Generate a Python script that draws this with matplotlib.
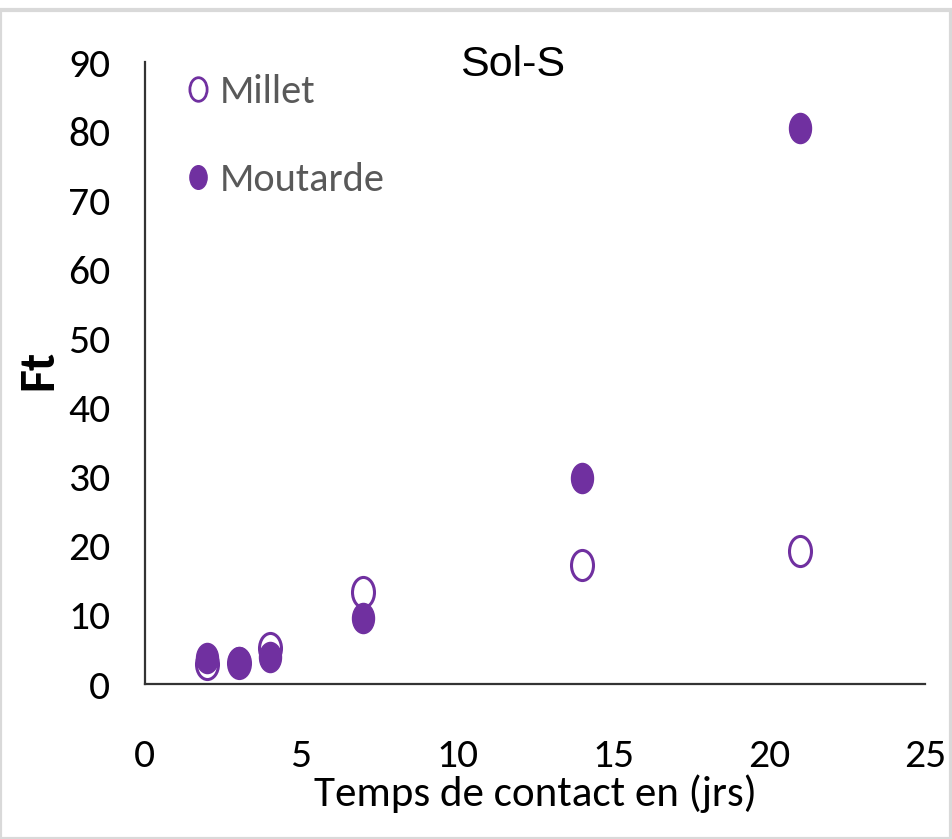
import matplotlib
matplotlib.use("Agg")
import matplotlib.pyplot as plt
from matplotlib.path import Path
from matplotlib.transforms import Affine2D
from matplotlib.lines import Line2D
from matplotlib.patches import Rectangle

days = [2, 3, 4, 7, 14, 21]
millet = [2.9, 3.0, 5.2, 13.3, 17.2, 19.2]
moutarde = [3.8, 3.2, 3.9, 9.6, 29.8, 80.5]
xticks = [0, 5, 10, 15, 20, 25]
yticks = [0, 10, 20, 30, 40, 50, 60, 70, 80, 90]

narrow = ["Carlito", "Lato", "DejaVu Sans"]

purple = "#7030A0"
ell = Path.unit_circle().transformed(Affine2D().scale(0.73, 1.0))

fig = plt.figure(figsize=(9.53, 8.39), dpi=100)
fig.patches.append(Rectangle((0.0, 0.0), 0.998, 0.988, transform=fig.transFigure,
                             fill=False, edgecolor="#d9d9d9", linewidth=3))
ax = fig.add_axes([0.152, 0.1847, 0.819, 0.741])

ax.scatter(days, millet, marker=ell, s=470, facecolors="white", edgecolors=purple,
           linewidths=2.2, zorder=3)
ax.scatter(days, moutarde, marker=ell, s=470, facecolors=purple, edgecolors=purple,
           linewidths=1, zorder=4)

ax.set_xlim(0, 25)
ax.set_ylim(0, 90)
ax.set_xticks(xticks)
ax.set_yticks(yticks)
ax.tick_params(length=0, labelsize=30)
ax.tick_params(axis="y", pad=25)
ax.tick_params(axis="x", pad=39)
for lab in ax.get_xticklabels() + ax.get_yticklabels():
    lab.set_fontfamily(narrow)
for s in ["top", "right"]:
    ax.spines[s].set_visible(False)
for s in ["left", "bottom"]:
    ax.spines[s].set_linewidth(1.6)
    ax.spines[s].set_color("#333333")

ax.set_xlabel("Temps de contact en (jrs)", fontsize=31, family=narrow, labelpad=0)
ax.set_ylabel("Ft", fontsize=36, fontweight="bold", family=narrow, va="center")
ax.yaxis.set_label_coords(-0.136, 0.505)
fig.text(0.538, 0.922, "Sol-S", fontsize=31, family="Liberation Sans", ha="center", va="center")

handles = [
    Line2D([], [], linestyle="none", marker=ell, markersize=17, markerfacecolor="white",
           markeredgecolor=purple, markeredgewidth=2.0),
    Line2D([], [], linestyle="none", marker=ell, markersize=17, markerfacecolor=purple,
           markeredgecolor=purple),
]
leg = ax.legend(handles, ["Millet", "Moutarde"], loc="upper left", bbox_to_anchor=(-0.03, 1.04),
                frameon=False, handletextpad=-0.45, labelspacing=1.3, handlelength=2.0,
                prop={"family": narrow, "size": 29})
for t in leg.get_texts():
    t.set_color("#595959")

fig.savefig("out.png", dpi=100)
